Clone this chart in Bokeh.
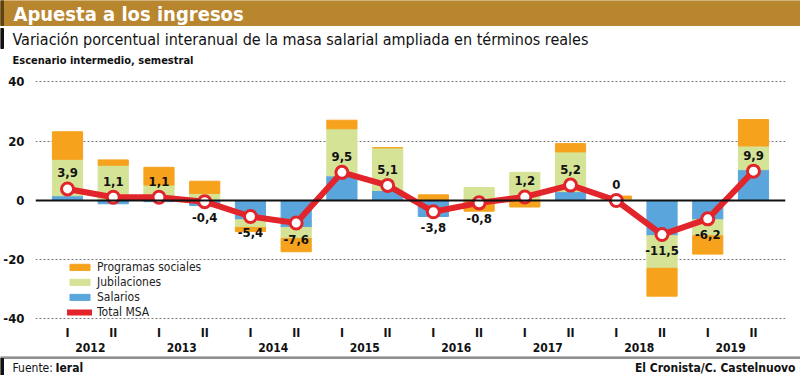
import numpy as np
from bokeh.plotting import figure
from bokeh.models import (ColumnDataSource, FactorRange, Range1d, Span, Legend,
                          LegendItem, FixedTicker)
from bokeh.layouts import column
from bokeh.core.properties import value
from bokeh.embed import file_html
from bokeh.resources import INLINE

# ---------------- data ----------------
years = ["2012", "2013", "2014", "2015", "2016", "2017", "2018", "2019"]
halves = ["I", "II"]
salarios = [1.6, -1.1, -0.4, -1.7, -6.5, -9.1, 8.3, 3.4, -5.4, -0.3, 0.0, 3.0, 0.0, -11.9, -6.5, 10.4]
jubilaciones = [12.3, 11.9, 5.2, 2.4, -2.6, -3.7, 15.9, 14.4, 0.3, 4.4, 9.5, 13.4, 0.5, -11.0, -5.4, 8.0]
programas = [9.3, 1.8, 6.0, 4.1, -1.4, -4.5, 2.9, 0.0, 1.6, -3.3, -2.2, 2.8, 1.0, -9.4, -6.2, 8.9]
total_msa = [3.9, 1.1, 1.1, -0.4, -5.4, -7.6, 9.5, 5.1, -3.8, -0.8, 1.2, 5.2, 0.0, -11.5, -6.2, 9.9]
y_ticks = [-40, -20, 0, 20, 40]
y_tick_labels = ["-40", "-20", "0", "20", "40"]

# ---------------- style ----------------
FONT = "'Liberation Sans Narrow', 'DejaVu Sans Condensed', 'Roboto Condensed', Roboto, sans-serif"
GOLD = "#B8862F"
ORANGE = "#F6A21C"
GREEN = "#D5E396"
BLUE = "#5AA5DC"
RED = "#E2252B"
INK = "#111111"

factors = [(y, h) for y in years for h in halves]

# stacked segments with separate positive / negative stacks
pos_base = np.zeros(len(factors))
neg_base = np.zeros(len(factors))
segs = []
for vals in (salarios, jubilaciones, programas):
    v = np.array(vals, dtype=float)
    b = np.where(v >= 0, pos_base, neg_base)
    t = b + v
    pos_base = np.where(v >= 0, t, pos_base)
    neg_base = np.where(v < 0, t, neg_base)
    segs.append((b, t))

src = ColumnDataSource(dict(
    x=factors,
    total=total_msa,
    lab=[("%.1f" % v).replace(".", ",") if v != 0 else "0" for v in total_msa],
    yoff=[-16 if v >= 0 else 16 for v in total_msa],
    sal_b=segs[0][0], sal_t=segs[0][1],
    jub_b=segs[1][0], jub_t=segs[1][1],
    pro_b=segs[2][0], pro_t=segs[2][1],
))


def blank(height):
    fig = figure(width=800, height=height, x_range=Range1d(0, 800), y_range=Range1d(height, 0),
                 output_backend="svg", toolbar_location=None, min_border=0)
    fig.axis.visible = False
    fig.grid.visible = False
    fig.outline_line_color = None
    return fig


# ---------------- header ----------------
h = blank(70)
h.quad(left=0, right=800, top=0, bottom=25, color=GOLD)
h.quad(left=0, right=3, top=0, bottom=25, color="#5E4312")
h.quad(left=0, right=3, top=28, bottom=48, color=INK)
h.text(x=13, y=13, text=["Apuesta a los ingresos"], text_color="white",
       text_font=value(FONT), text_font_size="20px", text_font_style="bold",
       text_baseline="middle")
h.text(x=12, y=39, text=["Variación porcentual interanual de la masa salarial ampliada en términos reales"],
       text_color=INK, text_font=value(FONT), text_font_size="16px",
       text_baseline="middle")
h.text(x=12, y=60, text=["Escenario intermedio, semestral"],
       text_color=INK, text_font=value(FONT), text_font_size="11px",
       text_font_style="bold", text_baseline="middle")

# ---------------- main chart ----------------
p = figure(width=800, height=286,
           x_range=FactorRange(*factors, range_padding=0.2, range_padding_units="absolute",
                               group_padding=0, factor_padding=0),
           y_range=Range1d(-40.17, 42.19),
           output_backend="svg", toolbar_location=None,
           min_border_left=35, min_border_right=15, min_border_top=5, min_border_bottom=37)
p.outline_line_color = None
p.xgrid.grid_line_color = None
p.ygrid.ticker = FixedTicker(ticks=[t for t in y_ticks if t != 0])
p.ygrid.grid_line_color = "#777777"
p.ygrid.grid_line_dash = "2 2"
p.ygrid.grid_line_width = 1

p.yaxis.ticker = FixedTicker(ticks=y_ticks)
p.yaxis.major_label_overrides = {t: l for t, l in zip(y_ticks, y_tick_labels)}
p.yaxis.axis_line_color = None
p.yaxis.major_tick_line_color = None
p.yaxis.minor_tick_line_color = None
p.yaxis.major_label_standoff = 5
p.yaxis.major_label_text_font = FONT
p.yaxis.major_label_text_font_size = "13px"
p.yaxis.major_label_text_font_style = "bold"
p.yaxis.major_label_text_color = INK

p.xaxis.axis_line_color = None
p.xaxis.major_tick_line_color = None
p.xaxis.minor_tick_line_color = None
p.xaxis.separator_line_color = None
p.xaxis.major_label_standoff = 0
p.xaxis.major_label_text_font = FONT
p.xaxis.major_label_text_font_size = "12px"
p.xaxis.major_label_text_font_style = "bold"
p.xaxis.major_label_text_color = INK
p.xaxis.group_text_font = FONT
p.xaxis.group_text_font_size = "12px"
p.xaxis.group_text_font_style = "bold"
p.xaxis.group_text_color = INK

r_sal = p.vbar(x="x", bottom="sal_b", top="sal_t", width=0.66, color=BLUE, source=src)
r_jub = p.vbar(x="x", bottom="jub_b", top="jub_t", width=0.66, color=GREEN, source=src)
r_pro = p.vbar(x="x", bottom="pro_b", top="pro_t", width=0.66, color=ORANGE, source=src)

p.add_layout(Span(location=0, dimension="width", line_color=INK, line_width=2))

r_line = p.line(x="x", y="total", line_color=RED, line_width=6, line_join="round",
                line_cap="round", source=src)
p.scatter(x="x", y="total", size=12, fill_color="white", line_color=RED, line_width=3,
          source=src)
p.text(x="x", y="total", text="lab", y_offset="yoff", text_align="center",
       text_baseline="middle", text_font=value(FONT), text_font_size="13px",
       text_font_style="bold", text_color=INK, source=src)

legend = Legend(items=[
    LegendItem(label="Programas sociales", renderers=[r_pro]),
    LegendItem(label="Jubilaciones", renderers=[r_jub]),
    LegendItem(label="Salarios", renderers=[r_sal]),
    LegendItem(label="Total MSA", renderers=[r_line]),
], location=(32, 0), orientation="vertical", glyph_width=25, glyph_height=8,
    label_height=15, spacing=0, padding=0, margin=0, label_standoff=5,
    label_text_font=FONT, label_text_font_size="12px", label_text_color="#222222",
    background_fill_alpha=0, border_line_alpha=0)
p.add_layout(legend)

# ---------------- footer ----------------
f = blank(19)
f.quad(left=0, right=800, top=0, bottom=2, color="#8F8F8F")
f.quad(left=0, right=3, top=2, bottom=19, color=INK)
f.text(x=12, y=11, text=["Fuente:"], text_font=value(FONT), text_font_size="12px",
       text_baseline="middle", text_color=INK)
f.text(x=55, y=11, text=["Ieral"], text_font=value(FONT), text_font_size="12px",
       text_font_style="bold", text_baseline="middle", text_color=INK)
f.text(x=795, y=11, text=["El Cronista/C. Castelnuovo"], text_font=value(FONT),
       text_font_size="12px", text_font_style="bold", text_baseline="middle",
       text_align="right", text_color=INK)

layout = column(column(h, spacing=0), p, column(f, spacing=0), spacing=0)
open("out.html", "w").write(file_html(layout, INLINE))
